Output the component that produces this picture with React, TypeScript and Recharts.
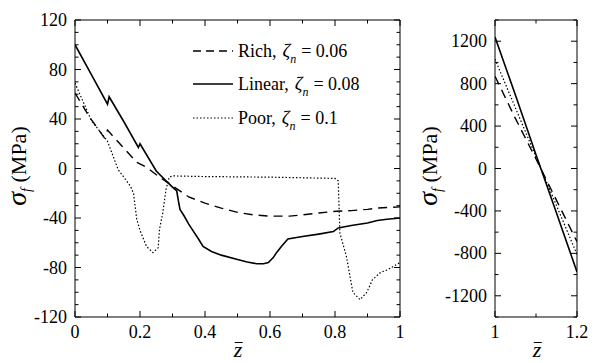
import { LineChart, Line, XAxis, YAxis } from 'recharts';

// left panel, 0 <= z <= 1
const linearLeft = [
  { z: 0, s: 100 }, { z: 0.05, s: 76 }, { z: 0.1, s: 52 }, { z: 0.105, s: 58 },
  { z: 0.15, s: 38 }, { z: 0.195, s: 17 }, { z: 0.2, s: 20 }, { z: 0.25, s: -2 },
  { z: 0.28, s: -10 }, { z: 0.3, s: -15 }, { z: 0.313, s: -18 }, { z: 0.318, s: -26 },
  { z: 0.323, s: -33 }, { z: 0.335, s: -38 }, { z: 0.35, s: -45 }, { z: 0.365, s: -51 },
  { z: 0.38, s: -57 }, { z: 0.394, s: -63 }, { z: 0.42, s: -67 }, { z: 0.45, s: -70 },
  { z: 0.5, s: -73.5 }, { z: 0.53, s: -75.5 }, { z: 0.56, s: -77 }, { z: 0.58, s: -77 },
  { z: 0.595, s: -76 }, { z: 0.61, s: -72 }, { z: 0.62, s: -68 }, { z: 0.635, s: -63 },
  { z: 0.645, s: -60 }, { z: 0.655, s: -57 }, { z: 0.7, s: -55 }, { z: 0.75, s: -53 },
  { z: 0.795, s: -51 }, { z: 0.81, s: -48 }, { z: 0.85, s: -46 }, { z: 0.9, s: -44 },
  { z: 0.93, s: -42 }, { z: 0.96, s: -41 }, { z: 1, s: -40 },
];

const richLeft = [
  { z: 0, s: 61 }, { z: 0.046, s: 41 }, { z: 0.09, s: 25 }, { z: 0.1, s: 31 },
  { z: 0.145, s: 18 }, { z: 0.19, s: 5 }, { z: 0.22, s: 1 }, { z: 0.26, s: -7 },
  { z: 0.3, s: -14 }, { z: 0.35, s: -23 }, { z: 0.4, s: -28 }, { z: 0.45, s: -32 },
  { z: 0.5, s: -35.5 }, { z: 0.55, s: -37.5 }, { z: 0.6, s: -38.5 }, { z: 0.66, s: -38.5 },
  { z: 0.7, s: -37.5 }, { z: 0.75, s: -36 }, { z: 0.805, s: -34.5 }, { z: 0.85, s: -34 },
  { z: 0.9, s: -33 }, { z: 0.93, s: -32 }, { z: 1, s: -31 },
];

const poorLeft = [
  { z: 0, s: 69 }, { z: 0.05, s: 39 }, { z: 0.1, s: 22 }, { z: 0.133, s: -1 },
  { z: 0.17, s: -14 }, { z: 0.18, s: -20 }, { z: 0.19, s: -41 }, { z: 0.2, s: -50 },
  { z: 0.22, s: -63 }, { z: 0.24, s: -68 }, { z: 0.256, s: -64 }, { z: 0.26, s: -49 },
  { z: 0.27, s: -36 }, { z: 0.28, s: -17 }, { z: 0.29, s: -7 }, { z: 0.3, s: -6 },
  { z: 0.4, s: -6.5 }, { z: 0.6, s: -7 }, { z: 0.7, s: -7.5 }, { z: 0.8, s: -8 },
  { z: 0.81, s: -10 }, { z: 0.815, s: -52 }, { z: 0.835, s: -71 }, { z: 0.855, s: -100 },
  { z: 0.877, s: -106 }, { z: 0.898, s: -100 }, { z: 0.915, s: -90 }, { z: 0.94, s: -84 },
  { z: 0.96, s: -82 }, { z: 1, s: -76 },
];

// right panel, 1 <= z <= 1.2
const linearRight = [
  { z: 1, s: 1240 }, { z: 1.05, s: 690 }, { z: 1.1, s: 130 }, { z: 1.15, s: -420 }, { z: 1.2, s: -975 },
];
const richRight = [
  { z: 1, s: 870 }, { z: 1.05, s: 470 }, { z: 1.1, s: 90 }, { z: 1.15, s: -300 }, { z: 1.2, s: -690 },
];
const poorRight = [
  { z: 1, s: 1030 }, { z: 1.05, s: 570 }, { z: 1.1, s: 110 }, { z: 1.15, s: -350 }, { z: 1.2, s: -810 },
];

const leftXTicks = [0, 0.1, 0.2, 0.3, 0.4, 0.5, 0.6, 0.7, 0.8, 0.9, 1];
const leftXMajor = [0, 0.2, 0.4, 0.6, 0.8, 1];
const leftYTicks = [-120, -110, -100, -90, -80, -70, -60, -50, -40, -30, -20, -10, 0,
  10, 20, 30, 40, 50, 60, 70, 80, 90, 100, 110, 120];
const leftYMajor = [-120, -80, -40, 0, 40, 80, 120];
const rightXTicks = [1, 1.1, 1.2];
const rightXMajor = [1, 1.2];
const rightYTicks = [-1400, -1200, -1000, -800, -600, -400, -200, 0, 200, 400, 600, 800, 1000, 1200, 1400];
const rightYMajor = [-1200, -800, -400, 0, 400, 800, 1200];

const FONT = "'Liberation Serif', 'Times New Roman', Times, serif";

const isMajor = (v: number, majors: number[]) => majors.some((m) => Math.abs(m - v) < 1e-6);
const fmt = (v: number) => (Number.isInteger(v) ? String(v) : v.toFixed(1));

function makeTick(side: 'bottom' | 'top' | 'left' | 'right', majors: number[], label: boolean) {
  return (props: any) => {
    const { x, y, payload } = props;
    const v = payload.value;
    const major = isMajor(v, majors);
    const L = major ? 6 : 3.5;
    let line;
    if (side === 'bottom') line = <line x1={x} y1={y} x2={x} y2={y - L} stroke="#000" />;
    else if (side === 'top') line = <line x1={x} y1={y} x2={x} y2={y + L} stroke="#000" />;
    else if (side === 'left') line = <line x1={x} y1={y} x2={x + L} y2={y} stroke="#000" />;
    else line = <line x1={x} y1={y} x2={x - L} y2={y} stroke="#000" />;
    return (
      <g>
        {line}
        {label && major && side === 'bottom' && (
          <text x={x} y={y + 21} textAnchor="middle" fontSize={18} style={{ fontFamily: FONT }} fill="#000">
            {fmt(v)}
          </text>
        )}
        {label && major && side === 'left' && (
          <text x={x - 8} y={y + 6} textAnchor="end" fontSize={18} style={{ fontFamily: FONT }} fill="#000">
            {fmt(v)}
          </text>
        )}
      </g>
    );
  };
}

function Panel(props: {
  width: number;
  margin: any;
  xDomain: number[];
  yDomain: number[];
  xTicks: number[];
  xMajor: number[];
  yTicks: number[];
  yMajor: number[];
  rich: any[];
  linear: any[];
  poor: any[];
}) {
  const axisLine = { stroke: '#000', strokeWidth: 1 };
  return (
    <LineChart width={props.width} height={363} margin={props.margin}>
      <XAxis xAxisId="b" orientation="bottom" type="number" dataKey="z" domain={props.xDomain}
        ticks={props.xTicks} interval={0} height={30} tickSize={0} tickMargin={0}
        axisLine={axisLine} tickLine={false} tick={makeTick('bottom', props.xMajor, true)} allowDataOverflow />
      <XAxis xAxisId="t" orientation="top" type="number" dataKey="z" domain={props.xDomain}
        ticks={props.xTicks} interval={0} height={1} tickSize={0} tickMargin={0}
        axisLine={axisLine} tickLine={false} tick={makeTick('top', props.xMajor, false)} allowDataOverflow />
      <YAxis yAxisId="l" orientation="left" type="number" domain={props.yDomain}
        ticks={props.yTicks} interval={0} width={75} tickSize={0} tickMargin={0}
        axisLine={axisLine} tickLine={false} tick={makeTick('left', props.yMajor, true)} allowDataOverflow />
      <YAxis yAxisId="r" orientation="right" type="number" domain={props.yDomain}
        ticks={props.yTicks} interval={0} width={1} tickSize={0} tickMargin={0}
        axisLine={axisLine} tickLine={false} tick={makeTick('right', props.yMajor, false)} allowDataOverflow />
      <Line xAxisId="b" yAxisId="l" data={props.rich} dataKey="s" type="linear" stroke="#000"
        strokeWidth={1.4} strokeDasharray="9 6" dot={false} isAnimationActive={false} />
      <Line xAxisId="b" yAxisId="l" data={props.linear} dataKey="s" type="linear" stroke="#000"
        strokeWidth={1.6} dot={false} isAnimationActive={false} />
      <Line xAxisId="b" yAxisId="l" data={props.poor} dataKey="s" type="linear" stroke="#000"
        strokeWidth={1.2} strokeDasharray="1.5 2" dot={false} isAnimationActive={false} />
    </LineChart>
  );
}

const legendItems = [
  { name: 'Rich', zeta: '0.06', dash: '8 5', width: 1.4, top: 51 },
  { name: 'Linear', zeta: '0.08', dash: undefined, width: 1.6, top: 84 },
  { name: 'Poor', zeta: '0.1', dash: '1.5 2', width: 1.2, top: 118 },
];

function YLabel({ x, y }: { x: number; y: number }) {
  return (
    <div style={{
      position: 'absolute', left: x, top: y, transform: 'translate(-50%, -50%) rotate(-90deg)',
      whiteSpace: 'nowrap', fontFamily: FONT, fontSize: 22, lineHeight: '26px',
    }}>
      <span style={{ fontSize: 28, fontStyle: 'italic' }}>σ</span>
      <sub style={{ fontSize: 14, fontStyle: 'italic', verticalAlign: '-5px' }}>f</sub>
      <span> (MPa)</span>
    </div>
  );
}

function XLabel({ x, y }: { x: number; y: number }) {
  return (
    <div style={{
      position: 'absolute', left: x, top: y, transform: 'translate(-50%, -50%)',
      fontFamily: FONT, fontSize: 22, fontStyle: 'italic', lineHeight: '22px',
    }}>
      <span style={{ position: 'relative', display: 'inline-block' }}>
        z
        <span style={{ position: 'absolute', left: 1, right: 0, top: 3, height: 1.3, background: '#000' }} />
      </span>
    </div>
  );
}

export default function App() {
  return (
    <div style={{ position: 'absolute', left: 0, top: 0, width: 594, height: 363, background: '#fff' }}>
      <div style={{ position: 'absolute', left: 0, top: 0 }}>
        <Panel width={420} margin={{ top: 19, right: 19, bottom: 16, left: 0 }}
          xDomain={[0, 1]} yDomain={[-120, 120]} xTicks={leftXTicks} xMajor={leftXMajor}
          yTicks={leftYTicks} yMajor={leftYMajor} rich={richLeft} linear={linearLeft} poor={poorLeft} />
      </div>
      <div style={{ position: 'absolute', left: 420, top: 0 }}>
        <Panel width={174} margin={{ top: 19, right: 16, bottom: 16, left: 0 }}
          xDomain={[1, 1.2]} yDomain={[-1400, 1400]} xTicks={rightXTicks} xMajor={rightXMajor}
          yTicks={rightYTicks} yMajor={rightYMajor} rich={richRight} linear={linearRight} poor={poorRight} />
      </div>

      {legendItems.map((it) => (
        <div key={it.name} style={{
          position: 'absolute', left: 193, top: it.top - 11, height: 22, display: 'flex',
          alignItems: 'center', fontFamily: FONT, fontSize: 18, whiteSpace: 'nowrap',
        }}>
          <svg width={40} height={10} style={{ marginRight: 5 }}>
            <line x1={0} y1={5} x2={40} y2={5} stroke="#000" strokeWidth={it.width} strokeDasharray={it.dash} />
          </svg>
          <span>{it.name},</span>
          <span style={{ fontStyle: 'italic', marginLeft: 6, fontSize: 19 }}>ζ</span>
          <span style={{ fontStyle: 'italic', fontSize: 12, position: 'relative', top: 8 }}>n</span>
          <span style={{ marginLeft: 5 }}>= {it.zeta}</span>
        </div>
      ))}

      <YLabel x={22} y={166} />
      <YLabel x={433} y={166} />
      <XLabel x={238} y={350} />
      <XLabel x={537} y={350} />
    </div>
  );
}
